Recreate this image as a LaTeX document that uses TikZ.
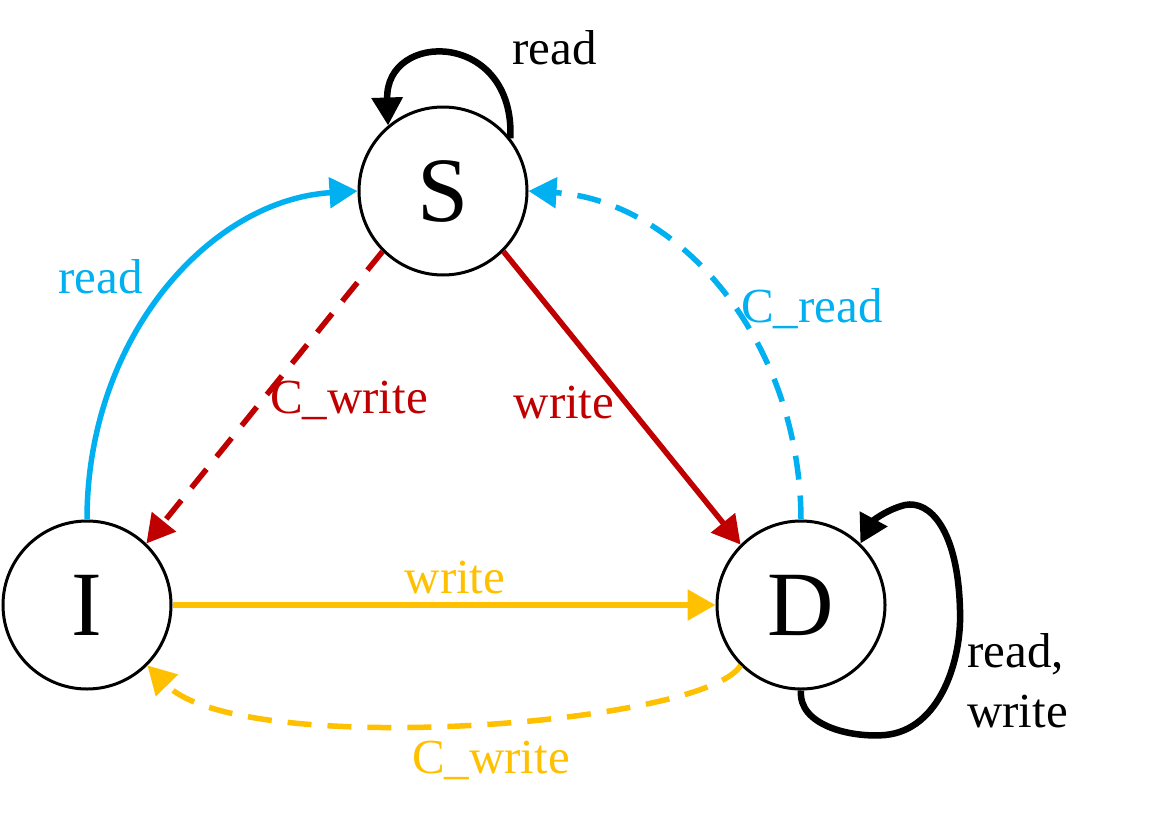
\documentclass[tikz,border=0pt]{standalone}
\usepackage{fontspec}
\setmainfont{Liberation Serif}
\usetikzlibrary{arrows.meta}
\definecolor{cblue}{HTML}{00B0F0}
\definecolor{cred}{HTML}{C00000}
\definecolor{cyellow}{HTML}{FFC000}
\tikzset{
  state/.style={circle, draw=black, line width=3pt, minimum size=168pt, inner sep=0pt, font=\fontsize{92}{100}\selectfont},
  edge/.style={line width=5.5pt, -{Triangle[length=28pt,width=30pt]}},
  loopedge/.style={line width=6.5pt, -{Triangle[length=28pt,width=30pt]}},
  dashedge/.style={edge, dash pattern=on 24pt off 16pt},
  lbl/.style={font=\fontsize{49}{60}\selectfont, inner sep=0pt, anchor=base}
}
\begin{document}
\begin{tikzpicture}[x=1pt, y=-1pt]
\useasboundingbox (0,0) rectangle (1153,816);
\node[state] (S) at (443,191) {S};
\node[state] (I) at (87,605) {I};
\node[state] (D) at (801,605) {D};

% S self loop
\draw[loopedge] (S.38) .. controls (515,30) and (385,30) .. (S.130);
\node[lbl] (lS) at (554.5,65) {read};

% I -> S read
\draw[edge, cblue] (I.90) .. controls (87,337) and (210,200) .. (S.180);
\node[lbl, text=cblue] (lIS) at (100.5,293) {read};

% S -> I C_write
\draw[dashedge, cred] (S.225) -- (I.46);
\node[lbl, text=cred] (lSI) at (349,413) {C\_write};

% S -> D write
\draw[edge, cred] (S.315) -- (D.135);
\node[lbl, text=cred] (lSD) at (564,418) {write};

% D -> S C_read
\draw[dashedge, cblue] (D.90) .. controls (800,337) and (676,200) .. (S.0);
\node[lbl, text=cblue] (lDS) at (812,322) {C\_read};

% I -> D write
\draw[edge, cyellow] (I.0) -- (D.180);
\node[lbl, text=cyellow] (lID) at (455,593) {write};

% D -> I C_write
\draw[dashedge, cyellow] (D.225) .. controls (705,725) and (240,760) .. (I.315);
\node[lbl, text=cyellow] (lDI) at (491,773) {C\_write};

% D self loop
\draw[loopedge] (D.270) .. controls (798,725) and (850,738) .. (885,735)
  .. controls (940,730) and (962,660) .. (960,610)
  .. controls (958,530) and (930,500) .. (905,505)
  .. controls (885,510) and (872,522) .. (D.46);
\node[lbl, anchor=north west, align=left, font=\fontsize{49}{60}\selectfont] (lDD) at (967,633) {read,\\write};
\end{tikzpicture}
\end{document}
